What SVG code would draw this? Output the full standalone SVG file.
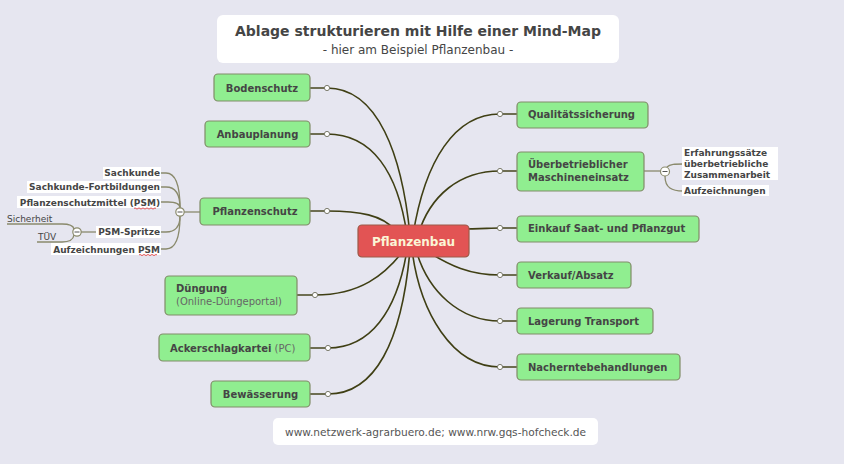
<svg xmlns="http://www.w3.org/2000/svg" width="844" height="464" viewBox="0 0 844 464">
<style>
text{font-family:"DejaVu Sans","Liberation Sans",sans-serif;fill:#454545}
.b{font-weight:bold}
.n{font-size:10px;font-weight:bold}
.node{fill:#90ee90;stroke:#808c68;stroke-width:1.2}
.curve{fill:none;stroke:#3f3f14;stroke-width:1.6}
.stub{fill:none;stroke:#6e6e52;stroke-width:2}
.dot{fill:#fff;stroke:#7a7a6a;stroke-width:1}
.sub{fill:none;stroke:#8a8a6c;stroke-width:1.3}
.lbl{font-size:9px;font-weight:bold}
.bg{fill:#fff}
.minus{fill:#fff;stroke:#8a8a6c;stroke-width:1.2}
.mline{stroke:#555;stroke-width:1}
.spell{fill:none;stroke:#e03030;stroke-width:0.8}
.gray{font-weight:normal;fill:#666}
</style>
<rect width="844" height="464" fill="#e6e6f0"/>

<g id="title">
<rect x="217" y="15" width="402" height="48" rx="6" fill="#fff"/>
<text x="418" y="35.5" text-anchor="middle" class="b" font-size="14">Ablage strukturieren mit Hilfe einer Mind-Map</text>
<text x="418" y="54" text-anchor="middle" font-size="12" fill="#555">- hier am Beispiel Pflanzenbau -</text>
</g>

<g id="footer">
<rect x="273" y="418" width="325" height="27" rx="5" fill="#fff"/>
<text x="435.5" y="436" text-anchor="middle" font-size="10.6" style="fill:#555">www.netzwerk-agrarbuero.de; www.nrw.gqs-hofcheck.de</text>
</g>

<g id="connectors">
<path class="curve" d="M327,88 C378,88 402,155 410,235"/>
<path class="curve" d="M327,134 C372,134 398,172 407,235"/>
<path class="curve" d="M327,211 C360,211 382,215 395,230"/>
<path class="curve" d="M500,114 C455,114 425,160 413,235"/>
<path class="curve" d="M500,171 C460,171 430,195 418,235"/>
<path class="curve" d="M460,229 C480,229 490,228 500,228"/>
<path class="curve" d="M425,250 C450,266 470,275 500,275"/>
<path class="curve" d="M416,250 C428,292 460,321 500,321"/>
<path class="curve" d="M412,250 C420,312 452,367 500,367"/>
<path class="curve" d="M404,250 C385,275 360,295 315,295"/>
<path class="curve" d="M407,250 C397,312 370,348 328,348"/>
<path class="curve" d="M410,250 C402,342 375,394 328,394"/>
<path class="stub" d="M310,88 H327 M310,134 H327 M310,211 H327 M297,295 H315 M310,348 H328 M310,394 H328"/>
<path class="stub" d="M500,114 H517 M500,171 H517 M500,228 H517 M500,275 H517 M500,321 H517 M500,367 H517"/>
<g fill="#fff" stroke="#7a7a6a" stroke-width="1">
<circle cx="327" cy="88" r="2.6"/><circle cx="327" cy="134" r="2.6"/><circle cx="327" cy="211" r="2.6"/>
<circle cx="315" cy="295" r="2.6"/><circle cx="328" cy="348" r="2.6"/><circle cx="328" cy="394" r="2.6"/>
<circle cx="500" cy="114" r="2.6"/><circle cx="500" cy="171" r="2.6"/><circle cx="500" cy="228" r="2.6"/>
<circle cx="500" cy="275" r="2.6"/><circle cx="500" cy="321" r="2.6"/><circle cx="500" cy="367" r="2.6"/>
</g>
<path class="sub" d="M200,212 H184"/>
<path class="sub" d="M161,173 H166 Q180,173 180,208"/>
<path class="sub" d="M161,187 H166 Q180,187 180,208"/>
<path class="sub" d="M161,202 H168 Q180,202 180,208"/>
<path class="sub" d="M161,232 H166 Q180,232 180,216"/>
<path class="sub" d="M161,249 H166 Q180,249 180,216"/>
<path class="sub" d="M97,232 H81"/>
<path class="sub" d="M7,224 H62 Q73,224 74,229"/>
<path class="sub" d="M37,242 H62 Q73,242 74,235"/>
<path class="sub" d="M644,171 H660"/>
<path class="sub" d="M667,167 C670,164 675,164 683,164"/>
<path class="sub" d="M665,176 C665,188 672,191 683,191"/>
</g>

<g id="center">
<rect x="358" y="225" width="111" height="32" rx="4" fill="#e25454" stroke="#9c5a48" stroke-width="1.2"/>
<text x="413.5" y="245.5" text-anchor="middle" class="b" font-size="12" style="fill:#fbf6d6">Pflanzenbau</text>
</g>

<g id="bodenschutz"><rect class="node" x="214" y="74" width="96" height="27" rx="4"/><text class="n" x="262" y="91.7" text-anchor="middle">Bodenschutz</text></g>
<g id="anbauplanung"><rect class="node" x="205" y="121" width="105" height="26" rx="4"/><text class="n" x="257.5" y="137.7" text-anchor="middle">Anbauplanung</text></g>
<g id="pflanzenschutz"><rect class="node" x="200" y="198" width="110" height="27" rx="4"/><text class="n" x="255" y="215.2" text-anchor="middle">Pflanzenschutz</text></g>
<g id="duengung"><rect class="node" x="165" y="276" width="132" height="39" rx="4"/><text class="n" x="176" y="292">Düngung</text><text x="176" y="305" font-size="10" class="gray">(Online-Düngeportal)</text></g>
<g id="ackerschlagkartei"><rect class="node" x="159" y="334" width="151" height="27" rx="4"/><text class="n" x="170" y="351.7">Ackerschlagkartei<tspan class="gray"> (PC)</tspan></text></g>
<g id="bewaesserung"><rect class="node" x="211" y="381" width="99" height="26" rx="4"/><text class="n" x="260.5" y="397.7" text-anchor="middle">Bewässerung</text></g>

<g id="qualitaetssicherung"><rect class="node" x="517" y="102" width="131" height="26" rx="4"/><text class="n" x="528" y="118.2">Qualitätssicherung</text></g>
<g id="maschineneinsatz"><rect class="node" x="517" y="152" width="127" height="39" rx="4"/><text class="n" x="528" y="168">Überbetrieblicher</text><text class="n" x="528" y="181">Maschineneinsatz</text></g>
<g id="einkauf"><rect class="node" x="517" y="216" width="182" height="26" rx="4"/><text class="n" x="528" y="232.2">Einkauf Saat- und Pflanzgut</text></g>
<g id="verkauf"><rect class="node" x="517" y="262" width="114" height="26" rx="4"/><text class="n" x="528" y="278.7">Verkauf/Absatz</text></g>
<g id="lagerung"><rect class="node" x="517" y="308" width="136" height="26" rx="4"/><text class="n" x="528" y="324.7">Lagerung Transport</text></g>
<g id="nacherntebehandlungen"><rect class="node" x="517" y="354" width="163" height="26" rx="4"/><text class="n" x="528" y="370.7">Nacherntebehandlungen</text></g>

<g id="pflanzenschutz-collapse"><circle class="minus" cx="180" cy="212" r="4.2"/><path class="mline" d="M177.5,212 H182.5"/></g>
<g id="sachkunde"><rect class="bg" x="103" y="167" width="58" height="12"/><text class="lbl" x="160" y="176" text-anchor="end">Sachkunde</text></g>
<g id="fortbildungen"><rect class="bg" x="27" y="181" width="134" height="12"/><text class="lbl" x="160" y="190" text-anchor="end">Sachkunde-Fortbildungen</text></g>
<g id="psm"><rect class="bg" x="17" y="196" width="144" height="12"/><text class="lbl" x="160" y="205.5" text-anchor="end">Pflanzenschutzmittel (PSM)</text><path class="spell" d="M134,208.5 q1,-1.2 2,0 t2,0 t2,0 t2,0 t2,0 t2,0 t2,0 t2,0 t2,0 t2,0 t2,0"/></g>
<g id="psm-spritze"><rect class="bg" x="96" y="226" width="65" height="12"/><text class="lbl" x="160" y="235" text-anchor="end">PSM-Spritze</text></g>
<g id="aufzeichnungen-psm"><rect class="bg" x="51" y="243" width="110" height="12"/><text class="lbl" x="160" y="252.5" text-anchor="end">Aufzeichnungen PSM</text><path class="spell" d="M139,255 q1,-1.2 2,0 t2,0 t2,0 t2,0 t2,0 t2,0 t2,0 t2,0 t2,0"/></g>
<g id="spritze-collapse"><circle class="minus" cx="77" cy="232" r="4.2"/><path class="mline" d="M74.5,232 H79.5"/></g>
<g id="sicherheit"><text x="7" y="221.5" font-size="9">Sicherheit</text></g>
<g id="tuev"><text x="38" y="239.5" font-size="9">TÜV</text></g>

<g id="maschinen-collapse"><circle class="minus" cx="665" cy="171.5" r="4.5"/><path class="mline" d="M662.5,171.5 H667.5"/></g>
<g id="erfahrungssaetze"><rect class="bg" x="682" y="147" width="96" height="33"/><text class="lbl" x="684" y="156">Erfahrungssätze</text><text class="lbl" x="684" y="167">überbetriebliche</text><text class="lbl" x="684" y="178">Zusammenarbeit</text></g>
<g id="aufzeichnungen"><rect class="bg" x="682" y="185" width="87" height="11"/><text class="lbl" x="684" y="193.5">Aufzeichnungen</text></g>
</svg>
